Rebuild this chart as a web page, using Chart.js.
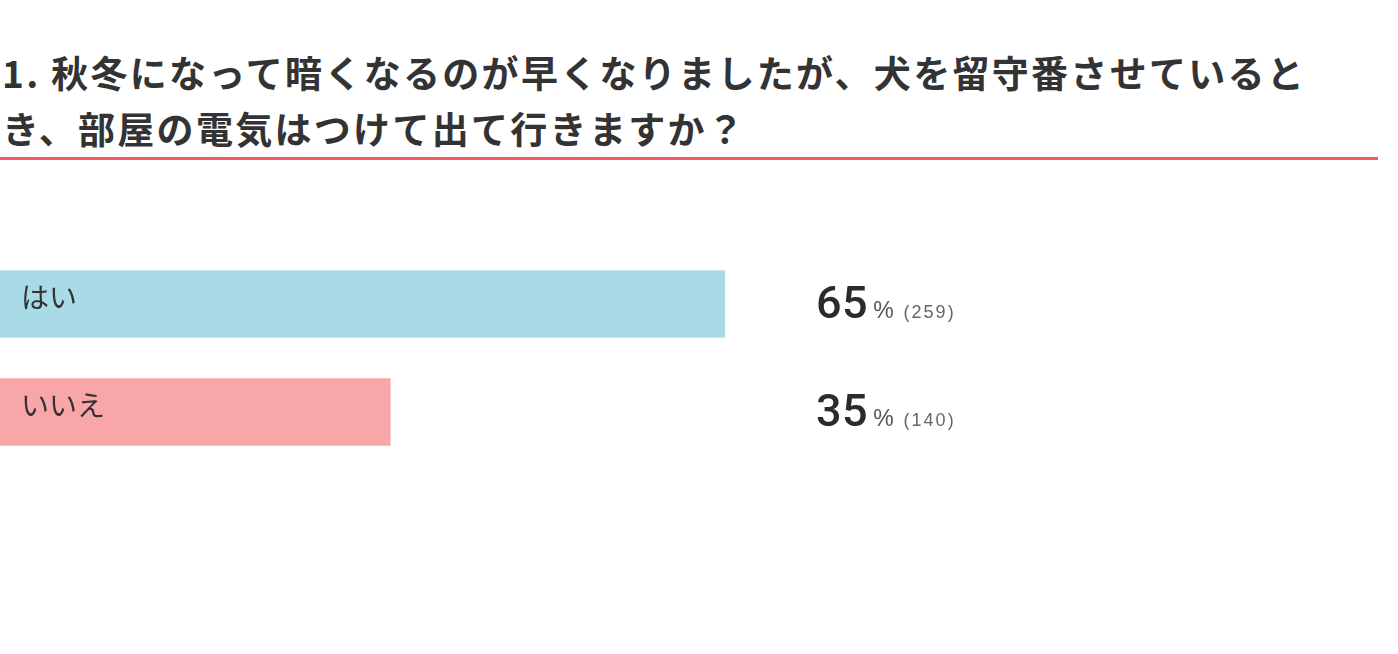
<!DOCTYPE html>
<html><head><meta charset="utf-8">
<script src="https://cdn.jsdelivr.net/npm/chart.js@4"></script>
<style>
html,body{margin:0;padding:0;background:#fff;width:1398px;height:654px;overflow:hidden;}
#title{position:absolute;left:2px;top:44px;width:1390px;font-family:"Noto Sans CJK JP","Noto Sans",sans-serif;font-weight:700;font-size:37px;line-height:56px;color:#333;letter-spacing:2.3px;margin:0;white-space:nowrap;}
#rule{position:absolute;left:0;top:157px;width:1378px;height:3px;background:#f25c5f;}
#wrap{position:absolute;left:0;top:0;width:1398px;height:654px;}
</style></head>
<body>
<h1 id="title">1. 秋冬になって暗くなるのが早くなりましたが、犬を留守番させていると<br>き、部屋の電気はつけて出て行きますか？</h1>
<div id="rule"></div>
<div id="wrap"><canvas id="c"></canvas></div>
<script>
const categories = ['はい', 'いいえ'];
const percents = [65, 35];
const counts = [259, 140];
const barColors = ['#a8dbe6', '#f9a6a9'];

const labelPlugin = {
  id: 'labels',
  afterDatasetsDraw(chart) {
    const ctx = chart.ctx;
    const meta = chart.getDatasetMeta(0);
    ctx.save();
    meta.data.forEach((bar, i) => {
      const y = bar.y;
      ctx.textBaseline = 'middle';
      ctx.fillStyle = '#333';
      ctx.font = '400 28px "Noto Sans CJK JP", sans-serif';
      ctx.textAlign = 'left';
      ctx.letterSpacing = '0px';
      ctx.fillText(categories[i], 21, y - 7);
      // value
      ctx.textBaseline = 'alphabetic';
      const base = y + 14;
      let x = 816;
      ctx.font = '500 45px Roboto, "Liberation Sans", sans-serif';
      ctx.letterSpacing = '0.5px';
      ctx.fillStyle = '#2b2b2b';
      const p = String(percents[i]);
      ctx.fillText(p, x, base);
      x += ctx.measureText(p).width + 5;
      ctx.letterSpacing = '0px';
      ctx.font = '400 23px "Liberation Sans", sans-serif';
      ctx.fillStyle = '#555';
      ctx.fillText('%', x, base);
      x += ctx.measureText('%').width + 10;
      ctx.font = '400 18px "Liberation Sans", sans-serif';
      ctx.letterSpacing = '2px';
      ctx.fillStyle = '#666';
      ctx.fillText('(' + counts[i] + ')', x, base);
      ctx.letterSpacing = '0px';
    });
    ctx.restore();
  }
};

new Chart(document.getElementById('c'), {
  type: 'bar',
  data: {
    labels: categories,
    datasets: [{
      data: percents,
      backgroundColor: barColors,
      borderWidth: 0,
      barThickness: 67
    }]
  },
  options: {
    indexAxis: 'y',
    responsive: true,
    maintainAspectRatio: false,
    animation: false,
    layout: { padding: { left: 0, right: 283, top: 250, bottom: 188 } },
    scales: {
      x: { display: false, min: 0, max: 100 },
      y: { display: false }
    },
    plugins: { legend: { display: false }, tooltip: { enabled: false }, title: { display: false } }
  },
  plugins: [labelPlugin]
});
</script>
</body></html>
